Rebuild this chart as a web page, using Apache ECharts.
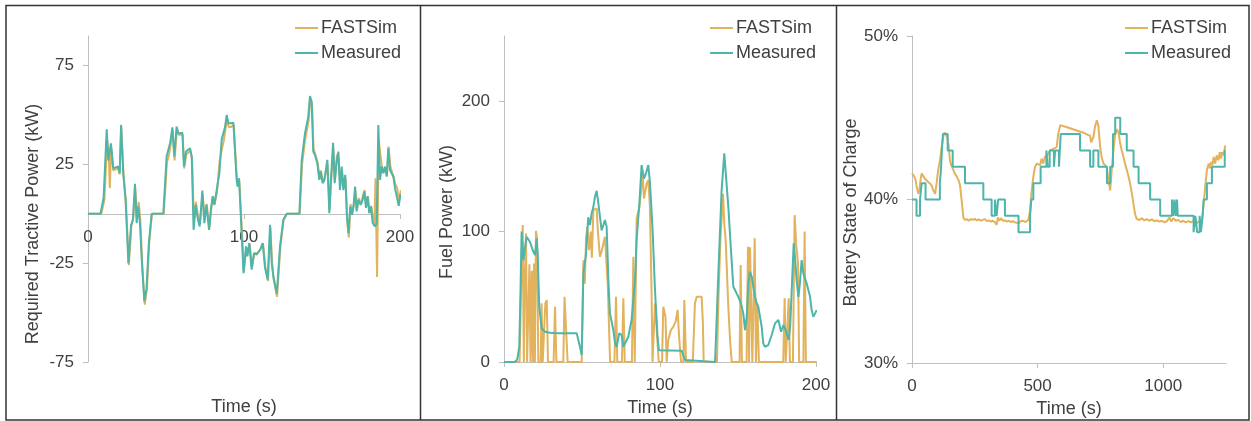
<!DOCTYPE html>
<html>
<head>
<meta charset="utf-8">
<script src="https://cdn.jsdelivr.net/npm/echarts@6/dist/echarts.min.js"></script>
<style>
html,body{margin:0;padding:0;background:#fff;}
#chart{width:1251px;height:421px;}
</style>
</head>
<body>
<div id="chart"></div>
<script>
// ---------- DATA ----------
var seriesNames = ['FASTSim', 'Measured'];

// Panel 1: Required Tractive Power (kW) vs Time (s)
var tractiveMeasured = [[0,0],[8,0],[10,8],[12,42.8],[13,27],[14.7,35.7],[16.2,23],[19.4,24],[20.3,20.5],[21.2,45],[22.6,20.5],[24.1,7],[25.9,-25],[27.6,-6],[28.8,-3],[30.1,15.2],[31.2,-4.7],[32.3,3.7],[33.3,-4.7],[34.6,-25],[36.1,-44.3],[37.5,-38],[39,-15],[40.8,0],[48.3,0],[50.4,29],[51.5,29.8],[52.6,35.7],[54.1,43.8],[55.3,29],[56.8,44.1],[57.9,40.7],[60.5,41],[61.5,23.9],[62.8,31.5],[65.4,33.2],[66.5,29],[67.7,-8.1],[69,4.5],[70.3,-2.2],[71.6,-6.4],[73.3,11.8],[74.6,-4.7],[75.9,4.5],[77.6,-8.1],[78.8,2],[79.9,8.8],[81,4.5],[82.5,12.1],[84.2,20.5],[85.7,37.7],[86.8,37.4],[87.8,43.8],[88.9,50],[90,45.8],[91.5,45.8],[93.2,46.1],[95.3,17.2],[95.9,13.8],[96.8,18],[98.5,-9.8],[99.7,-30],[101.3,-16.5],[102.1,-21.5],[103.4,-14.8],[104.9,-28.3],[106.4,-19.9],[108.1,-20.7],[110.3,-18.2],[112,-14.8],[113.5,-27.4],[115.2,-33.3],[116.7,-5.6],[117.8,-24.9],[118.8,-31.6],[121,-40.4],[123.1,-16.5],[125.2,-3],[127.4,0],[135.5,0],[137,27.3],[139.1,40.7],[141.2,49.2],[142.3,59.6],[143.4,56.7],[144.4,31.5],[145.5,29.8],[147,25.6],[148.3,17.2],[149.1,21.4],[150.4,15.5],[151.5,17],[153.4,27.3],[154.7,0.3],[155.6,15.5],[157.1,36],[158.1,15.5],[159.4,26.4],[160.5,31.5],[161.5,12.1],[162.6,23.9],[163.7,12],[164.9,19.7],[166,-1.3],[167,-9.8],[168.1,3.7],[169.2,-0.5],[170.2,3.7],[171.2,13.8],[172.2,1.2],[173.3,7],[174.8,4.5],[176,7],[177.1,11.3],[178.2,3],[179.2,8.8],[180.3,0.3],[181.4,3.7],[182.5,-4.7],[184,-6.4],[185.1,-4.7],[186.1,44.9],[187.2,17.2],[188.2,23.9],[189.3,20.5],[190.4,23.9],[191.5,18.9],[192.5,33.2],[193.6,22.2],[194.7,21.4],[195.7,18.9],[196.8,13],[198,12],[199.2,4],[200.3,10]];
var tractiveFastsim = [[0,0],[8.5,0],[10.5,7],[12.3,37],[13.3,30],[14,13],[14.8,34],[16.2,22],[19.4,23],[20.3,20],[21.3,44],[22.8,20],[24.3,6],[26.2,-26],[27.8,-6],[29,-2],[30.3,13],[31.4,-3],[32.5,6],[33.5,-3],[34.8,-26],[36.4,-46],[37.8,-38],[39.3,-14],[41,0],[48.5,0],[50.6,26],[51.7,29],[52.8,34],[54.3,42],[55.5,27],[57,43],[58.1,40],[60.7,40],[61.7,23],[63,30],[65.6,32],[66.7,28],[67.9,-4],[69.2,6],[70.5,-1],[71.8,-5],[73.5,10],[74.8,-3],[76.1,5],[77.8,-7],[79,3],[80.1,9],[81.2,5],[82.7,11],[84.4,27],[85.9,33],[87,37],[88,42],[89.1,48],[90.2,44],[91.7,44],[93.4,45],[95.5,17],[96.1,14],[97,17],[98.7,-9],[99.9,-29],[101.5,-17],[102.3,-21],[103.6,-15],[105.1,-27],[106.6,-20],[108.3,-20],[110.5,-18],[112.2,-15],[113.7,-27],[115.4,-34],[116.9,-7],[118,-25],[119,-33],[121.2,-42],[123.3,-17],[125.4,-3],[127.6,0],[135.7,0],[137.2,25],[139.3,38],[141.4,47],[142.5,58],[143.6,55],[144.6,33],[145.7,30],[147.2,26],[148.5,18],[149.3,22],[150.6,16],[151.7,18],[153.6,25],[154.9,2],[155.8,16],[157.3,33],[158.3,17],[159.6,30],[160.7,28],[161.7,14],[162.8,22],[163.9,14],[165.1,18],[166.2,-4],[167.2,-12],[168.3,5],[169.4,0],[170.4,5],[171.4,12],[172.4,2],[173.5,8],[175,5],[176.2,9],[177.3,12],[178.4,4],[179.4,9],[180.5,1],[181.6,4],[182.7,-3],[183.6,-5],[184.3,18],[185.3,-32],[186.3,38],[187.4,30],[188.4,24],[189.5,21],[190.6,23],[191.7,19],[192.7,34],[193.8,24],[194.9,21],[195.9,19],[197,15],[198.2,13],[199.4,6],[200.5,12]];

// Panel 2: Fuel Power (kW) vs Time (s)
var fuelMeasured = [[0,0],[7,0],[8.5,2],[9.8,11.7],[10.5,50],[11.3,100],[12.4,78],[13.5,88],[14.5,96],[16.7,92],[18.8,84.5],[19.9,82],[20.9,94.8],[21.6,83],[22.6,42.4],[24.1,25.8],[26.3,23.2],[29.5,22.5],[35,22],[40,22],[46.6,22],[48.7,11.7],[49.8,5.4],[50.9,68],[52.6,83],[54,111],[55.1,105],[56.2,114],[57.3,119],[58.3,126.7],[59.4,131.3],[60.5,121.6],[61.5,111.4],[62.6,101],[63.7,105],[64.7,108.8],[65.8,103.7],[66.9,62.8],[67.9,37.3],[70.1,24.5],[71.2,14.3],[72.2,11.7],[73.9,22],[75.4,20.7],[76.5,11.7],[77.6,10.5],[79.7,19.4],[81.8,32.2],[82.9,47.5],[84,62.8],[85,93.5],[86.8,121.6],[88.2,151],[89.7,140.7],[91,144.6],[92.5,151],[93.6,137],[95.3,100],[96.8,55],[98.4,20],[99.3,9],[100,8.7],[113.9,8.7],[116,1.5],[117,0],[135.3,0],[137.4,68],[139.5,131.8],[141.2,160],[142.3,158.6],[143.8,119],[145.5,85.8],[147,57.7],[148.1,55.2],[149.1,52.6],[150.2,50],[151.9,45],[153.4,37.3],[154.5,24.5],[155.6,34.7],[156.6,60.3],[157.7,69.2],[158.8,65.4],[159.8,57.7],[160.9,50],[162,45],[163,42.4],[164.1,34.7],[165.2,27],[166.2,14.3],[167.3,11.7],[168.4,13],[169.4,13],[170.5,16.9],[171.6,20.7],[173.7,29.6],[175.9,32.2],[177.6,23.2],[179.1,28.4],[180.6,24.5],[182.5,16.9],[183.5,28.4],[184.6,27],[185.7,91],[186.5,80.7],[187.6,62.8],[188.7,50],[189.7,60.3],[190.8,78.2],[191.9,68],[194,60.3],[196.2,50],[197.2,39.8],[198.3,34.7],[199.4,37.3],[200.4,39.8]];
var fuelFastsim = [[0,0],[10,0],[11,60],[12,105],[12.7,0],[13.3,60],[14.1,98.6],[14.8,0],[15.5,0],[16.3,75],[17,0],[17.8,70],[18.5,0],[19.2,75.6],[19.8,0],[20.5,100.6],[21.2,95],[22,0],[23.5,0],[24.1,45],[24.8,0],[25.8,0],[26.5,45],[27.4,47.5],[28.2,0],[31.8,0],[32.7,42.4],[33.6,0],[38,0],[38.8,50],[40,50],[40.8,0],[49.8,0],[50.9,78],[51.8,60],[52.6,95],[53.4,103.7],[54.5,85.8],[55.6,100],[56.3,80],[57.3,116.5],[59.4,117.8],[60.2,100],[61.5,80.7],[62.6,85],[64.7,96],[65.8,97.3],[66.5,60],[67.5,20],[68,0],[70.8,0],[71.8,50],[72.6,0],[75.6,0],[76.5,48.8],[77.4,0],[82,0],[82.9,80.7],[83.8,0],[84.2,0],[85,110],[86.8,119],[88.9,144.6],[89.7,125.4],[91.5,137],[92.5,139.5],[93.5,120],[94.5,60],[95.2,0],[96,0],[96.8,45],[98,45],[99.2,0],[101.3,0],[102.1,42.4],[103.5,34.7],[104.3,0],[104.8,0],[105.3,17],[107,24.5],[108.5,27],[110,31],[111.3,40],[112.2,20],[113.5,0],[115,0],[115.6,47.5],[116.7,0],[121,0],[122.4,45],[123.5,50],[126.7,50],[127.5,30],[128,0],[136.5,0],[137.5,50],[138.7,93.5],[140.4,129],[141.2,106],[142.1,93.5],[143.8,42.4],[144.9,16.9],[146,0],[151,0],[151.7,74.3],[152.5,0],[155.5,0],[156.4,88.4],[157.1,0],[157.7,88],[158.5,88.4],[159.2,0],[159.8,0],[160.7,94.8],[161.5,0],[162.4,45],[163.4,0],[179,0],[179.9,48.8],[180.6,0],[181.7,0],[182.5,48.8],[183.3,0],[185.2,0],[186.3,112.6],[187.3,90],[188.5,75.6],[189.2,0],[191.9,0],[192.7,100],[193.5,0],[200.4,0]];

// Panel 3: Battery State of Charge (%) vs Time (s)
var socMeasured = [[0,40],[18,39],[32,40],[38.5,41],[54,40],[111,41],[116,42],[119,43],[123,44],[142,43],[162,42],[211,41],[284,40],[317,39],[330,40],[337,39],[343,40],[370,39],[424,38],[470,39],[475,40],[483,41],[512,42],[535,43],[540,42],[548,43],[565,42],[570,43],[585,42],[592,44],[669,43],[709,42],[722,43],[742,42],[776,41],[789,42],[800,44],[809,45],[829,44],[855,43],[882,42],[902,41],[948,40],[988,39],[1035,40],[1040,39],[1045,40],[1050,39],[1055,40],[1058,39],[1121,38],[1128,39],[1135,38],[1145,39],[1150,38],[1157,39],[1161,40],[1174,41],[1194,42],[1245,43],[1248,43]];
var socFastsim = [[0,41.6],[8,41.45],[14,41.2],[18.6,40.8],[25,40.35],[30,40.6],[34,41.2],[38.5,41.6],[45,41.6],[50,41.3],[56,41.2],[62,41.1],[70,41.0],[78,40.86],[85,40.55],[92,40.35],[98,41],[104,41.8],[111.5,42.4],[118,43.2],[125,43.9],[130,44.1],[135,44.1],[140,43.8],[145,43.4],[151,42.4],[156,42.1],[162,41.9],[170,41.6],[178,41.4],[185,41.2],[191,40.9],[198,39.9],[204.5,38.9],[210,38.75],[218,38.8],[226,38.7],[234,38.8],[242,38.75],[250,38.82],[258,38.72],[266,38.78],[274,38.7],[282,38.75],[290,38.8],[298,38.68],[306,38.72],[314,38.65],[322,38.7],[331,38.6],[337,38.45],[342,38.9],[348,38.7],[355,38.85],[362,38.7],[370,38.72],[378,38.65],[386,38.7],[394,38.62],[402,38.68],[410,38.6],[417,38.65],[425,38.55],[433,38.68],[443,38.7],[452,38.62],[463,38.75],[470,39.3],[476,40.5],[483,41.4],[490,42],[497,42.2],[504,42.3],[510,42.1],[516,42.5],[522,42.2],[529,42.6],[536,42.5],[543,42.8],[550,43],[557,42.9],[563,43.1],[570,43],[576,43.2],[582,44],[590,44.55],[620,44.4],[650,44.25],[680,44.1],[700,43.95],[709,43.9],[713,43.5],[716,43.55],[722,43.8],[729,44.5],[736,44.85],[742,44.5],[749,43.2],[755,42.6],[762,42.2],[770,42.1],[776,41.9],[782,41.2],[789,40.55],[795,41.8],[802,43],[808,43.9],[815,44.3],[822,44.1],[828,43.5],[835,43],[842,42.6],[848,42.2],[855,41.8],[862,41.4],[868,41],[875,40.4],[882,39.7],[888,39.1],[895,38.8],[905,38.75],[915,38.85],[925,38.72],[935,38.8],[945,38.7],[955,38.78],[965,38.68],[975,38.72],[985,38.65],[995,38.7],[1005,38.6],[1015,38.68],[1025,38.9],[1032,38.65],[1040,38.85],[1050,38.7],[1060,38.75],[1070,38.62],[1080,38.7],[1090,38.6],[1100,38.68],[1110,38.6],[1121,38.7],[1132,38.55],[1142,38.65],[1154,38.7],[1160,39.6],[1167,40.75],[1174,41.8],[1181,42.2],[1186,41.9],[1191,42.3],[1196,42.1],[1201,42.6],[1207,42.2],[1213,42.7],[1220,42.4],[1225,42.9],[1230,42.5],[1234,42.9],[1240,42.7],[1247,43.3]];

// Tick labels
var tractiveXTicks = [0, 100, 200];
var tractiveYTicks = [-75, -25, 25, 75];
var fuelXTicks = [0, 100, 200];
var fuelYTicks = [0, 100, 200];
var socXTicks = [0, 500, 1000];
var socYTicks = [30, 40, 50];

// Axis titles
var xAxisTitle = 'Time (s)';
var yAxisTitles = ['Required Tractive Power (kW)', 'Fuel Power (kW)', 'Battery State of Charge'];

// ---------- STYLE ----------
var ORANGE = '#E2B25C';
var TEAL = '#4DB5A9';
var AXIS = '#BFBFBF';
var TXT = '#404040';
var FONT = '"Liberation Sans", Arial, sans-serif';

var chart = echarts.init(document.getElementById('chart'), null, {renderer: 'canvas'});

function plain(v) { return String(v); }
function pct(v) { return v + '%'; }

// x axis of panel 1 sits on the y=0 line: shift it up from the grid bottom
// by the pixel distance of value 0 from the bottom.
var P1_H = 326, P1_MIN = -75, P1_MAX = 90;
var p1ZeroShift = -Math.round(P1_H * (0 - P1_MIN) / (P1_MAX - P1_MIN));

function xAx(idx, max, ticks, gap, offset) {
  return {
    type: 'value', gridIndex: idx, min: 0, max: max, offset: offset || 0,
    name: xAxisTitle, nameLocation: 'middle', nameGap: gap,
    nameTextStyle: {fontFamily: FONT, fontSize: 18, color: TXT},
    axisLine: {show: true, onZero: false, lineStyle: {color: AXIS, width: 1}},
    axisTick: {show: true, length: 5, lineStyle: {color: AXIS}, customValues: ticks},
    axisLabel: {fontFamily: FONT, fontSize: 17, color: TXT, margin: 15, customValues: ticks, formatter: plain},
    splitLine: {show: false}
  };
}
function yAx(idx, min, max, ticks, gap, pad, fmt) {
  return {
    type: 'value', gridIndex: idx, min: min, max: max,
    name: yAxisTitles[idx], nameLocation: 'middle', nameGap: gap, nameRotate: 90,
    nameTextStyle: {fontFamily: FONT, fontSize: 18, color: TXT, padding: [0, pad, 0, 0]},
    axisLine: {show: true, lineStyle: {color: AXIS, width: 1}},
    axisTick: {show: true, length: 5, lineStyle: {color: AXIS}, customValues: ticks},
    axisLabel: {fontFamily: FONT, fontSize: 17, color: TXT, margin: 14, customValues: ticks, formatter: fmt || plain},
    splitLine: {show: false}
  };
}
function leg(left) {
  return {
    data: seriesNames, orient: 'vertical', left: left, top: 19, padding: 0,
    icon: 'rect', itemWidth: 23, itemHeight: 2, itemGap: 7,
    textStyle: {fontFamily: FONT, fontSize: 18, color: TXT, padding: [0, 0, 0, -2]}
  };
}
function ser(name, data, idx, color, step) {
  var s = {
    name: name, type: 'line', data: data, xAxisIndex: idx, yAxisIndex: idx,
    showSymbol: false, symbol: 'none', smooth: false,
    lineStyle: {color: color, width: 2}, itemStyle: {color: color},
    emphasis: {disabled: true}
  };
  if (step) s.step = step;
  return s;
}

var option = {
  animation: false,
  backgroundColor: '#fff',
  grid: [
    {left: 88, top: 36, width: 312, height: P1_H, containLabel: false, outerBoundsMode: 'none'},
    {left: 504, top: 36, width: 312, height: 326, containLabel: false, outerBoundsMode: 'none'},
    {left: 912, top: 36, width: 314, height: 327, containLabel: false, outerBoundsMode: 'none'}
  ],
  xAxis: [xAx(0, 200, tractiveXTicks, 184, p1ZeroShift), xAx(1, 200, fuelXTicks, 34), xAx(2, 1250, socXTicks, 33)],
  yAxis: [
    yAx(0, P1_MIN, P1_MAX, tractiveYTicks, 46, 50),
    yAx(1, 0, 250, fuelYTicks, 48, 26),
    yAx(2, 30, 50, socYTicks, 50, 26, pct)
  ],
  legend: [leg(295), leg(710), leg(1125)],
  series: [
    ser('FASTSim', tractiveFastsim, 0, ORANGE),
    ser('Measured', tractiveMeasured, 0, TEAL),
    ser('FASTSim', fuelFastsim, 1, ORANGE),
    ser('Measured', fuelMeasured, 1, TEAL),
    ser('FASTSim', socFastsim, 2, ORANGE),
    ser('Measured', socMeasured, 2, TEAL, 'end')
  ],
  graphic: [
    {type: 'rect', shape: {x: 6, y: 5.5, width: 1243, height: 414.5}, style: {fill: 'none', stroke: '#333', lineWidth: 1.5}, silent: true},
    {type: 'line', shape: {x1: 420.5, y1: 5.5, x2: 420.5, y2: 420}, style: {stroke: '#333', lineWidth: 1.5}, silent: true},
    {type: 'line', shape: {x1: 836.5, y1: 5.5, x2: 836.5, y2: 420}, style: {stroke: '#333', lineWidth: 1.5}, silent: true}
  ]
};
chart.setOption(option);
</script>
</body>
</html>
